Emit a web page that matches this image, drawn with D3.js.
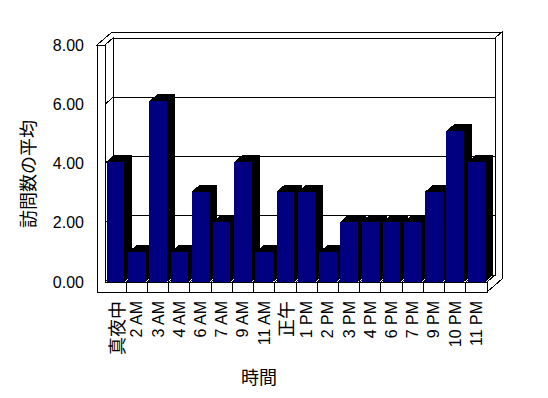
<!DOCTYPE html>
<html>
<head>
<meta charset="utf-8">
<script src="https://cdn.jsdelivr.net/npm/d3@7"></script>
<style>
  html, body { margin: 0; padding: 0; background: #fff; }
  svg { display: block; }
</style>
</head>
<body>
<svg id="chart" width="548" height="398"></svg>
<script>
const categories = ["真夜中", "2 AM", "3 AM", "4 AM", "6 AM", "7 AM", "9 AM", "11 AM", "正午", "1 PM", "2 PM", "3 PM", "4 PM", "6 PM", "7 PM", "9 PM", "10 PM", "11 PM"];
const values = [4.05, 1.0, 6.1, 1.0, 3.05, 2.03, 4.05, 1.0, 3.05, 3.05, 1.0, 2.03, 2.03, 2.03, 2.03, 3.05, 5.1, 4.05];
const yTicks = [0, 2, 4, 6, 8];
const yTitle = "訪問数の平均";
const xTitle = "時間";

const svg = d3.select("#chart");

// geometry
const xL = 105, xR = 487;        // inner front left / right
const wallT = 8;                 // left wall thickness
const floorT = 10;               // floor thickness
const yScale = d3.scaleLinear().domain([0, 8]).range([282, 45]);
const yBase = yScale(0), yMax = yScale(8);
const d1 = [8, -7];              // depth of bars / back wall front face
const d2 = [15, -13];            // back face of back wall

const xBand = d3.scaleBand().domain(categories).range([xL, xR])
  .paddingInner(0.175).paddingOuter(0.0875);
const xCell = d3.scaleBand().domain(categories).range([xL, xR]);

const line = d3.line();
const poly = pts => line(pts) + "Z";

const stroke = "#000";
const g = svg.append("g").attr("shape-rendering", "crispEdges");

// back wall top + left wall top
g.append("path")
  .attr("d", poly([[xL - wallT, yMax], [xL - wallT + d2[0], yMax + d2[1]], [xR + d2[0], yMax + d2[1]],
                   [xR + d1[0], yMax + d1[1]], [xL + d1[0], yMax + d1[1]], [xL, yMax]]))
  .attr("fill", "#fff").attr("stroke", stroke);

// right end face (back wall + floor)
g.append("path")
  .attr("d", poly([[xR + d1[0], yMax + d1[1]], [xR + d2[0], yMax + d2[1]], [xR + d2[0], yBase + floorT + d2[1]],
                   [xR, yBase + floorT], [xR, yBase], [xR + d1[0], yBase + d1[1]]]))
  .attr("fill", "#fff").attr("stroke", stroke);

// back wall front face
g.append("rect")
  .attr("x", xL + d1[0]).attr("y", yMax + d1[1])
  .attr("width", xR - xL).attr("height", yBase - yMax)
  .attr("fill", "#fff").attr("stroke", stroke);

// left wall inner face
g.append("path")
  .attr("d", poly([[xL, yMax], [xL + d1[0], yMax + d1[1]], [xL + d1[0], yBase + d1[1]], [xL, yBase]]))
  .attr("fill", "#fff").attr("stroke", stroke);

// floor top
g.append("path")
  .attr("d", poly([[xL, yBase], [xL + d1[0], yBase + d1[1]], [xR + d1[0], yBase + d1[1]], [xR, yBase]]))
  .attr("fill", "#fff").attr("stroke", stroke);

// gridlines
const inner = yTicks.filter(v => v > 0 && v < 8);
inner.forEach(v => {
  const y = yScale(v);
  g.append("path")
    .attr("d", line([[xL - wallT, y], [xL, y], [xL + d1[0], y + d1[1]], [xR + d1[0], y + d1[1]]]))
    .attr("fill", "none").attr("stroke", stroke);
});

// floor cell dividers (top face)
categories.slice(1).forEach(c => {
  const x = xCell(c);
  g.append("path")
    .attr("d", line([[x, yBase], [x + d1[0], yBase + d1[1]]]))
    .attr("fill", "none").attr("stroke", stroke);
});

// bars
const bars = g.append("g");
categories.forEach((c, i) => {
  const x0 = xBand(c), x1 = x0 + xBand.bandwidth();
  const yt = yScale(values[i]);
  const bg = bars.append("g");
  bg.append("path")
    .attr("d", poly([[x1, yt], [x1 + d1[0], yt + d1[1]], [x1 + d1[0], yBase + d1[1]], [x1, yBase]]))
    .attr("fill", "#000");
  bg.append("path")
    .attr("d", poly([[x0, yt], [x1, yt], [x1 + d1[0], yt + d1[1]], [x0 + d1[0], yt + d1[1]]]))
    .attr("fill", "#000");
  bg.append("rect")
    .attr("x", x0).attr("y", yt)
    .attr("width", x1 - x0).attr("height", yBase - yt)
    .attr("fill", "#000080");
});

// front faces: left wall + floor (L shape)
g.append("path")
  .attr("d", poly([[xL - wallT, yMax], [xL, yMax], [xL, yBase], [xR, yBase], [xR, yBase + floorT], [xL - wallT, yBase + floorT]]))
  .attr("fill", "#fff").attr("stroke", stroke);

// floor front dividers
categories.slice(1).forEach(c => {
  const x = xCell(c);
  g.append("path")
    .attr("d", line([[x, yBase], [x, yBase + floorT]]))
    .attr("fill", "none").attr("stroke", stroke);
});

// y tick labels
const fmt = d3.format(".2f");
svg.append("g").selectAll("text").data(yTicks).join("text")
  .attr("x", 84).attr("y", d => yScale(d))
  .attr("text-anchor", "end").attr("dominant-baseline", "central")
  .attr("font-family", "'Liberation Sans', Arial, sans-serif").attr("font-size", 16)
  .attr("fill", "#000")
  .text(d => fmt(d));

// category labels
const isCJK = s => /[^\x00-\x7F]/.test(s);
svg.append("g").selectAll("text").data(categories).join("text")
  .attr("transform", d => `translate(${xCell(d) + xCell.bandwidth() / 2},301) rotate(-90)`)
  .attr("text-anchor", "end").attr("dominant-baseline", "central")
  .attr("font-family", d => isCJK(d) ? "'Noto Sans CJK JP', sans-serif" : "'Liberation Sans', Arial, sans-serif")
  .attr("font-size", d => isCJK(d) ? 18 : 16)
  .attr("fill", "#000")
  .text(d => d);

// axis titles
svg.append("text")
  .attr("transform", "translate(27,174) rotate(-90)")
  .attr("text-anchor", "middle").attr("dominant-baseline", "central")
  .attr("font-family", "'Noto Sans CJK JP', sans-serif").attr("font-size", 18)
  .attr("fill", "#000").text(yTitle);

svg.append("text")
  .attr("x", 259).attr("y", 376)
  .attr("text-anchor", "middle").attr("dominant-baseline", "central")
  .attr("font-family", "'Noto Sans CJK JP', sans-serif").attr("font-size", 18)
  .attr("fill", "#000").text(xTitle);
</script>
</body>
</html>
